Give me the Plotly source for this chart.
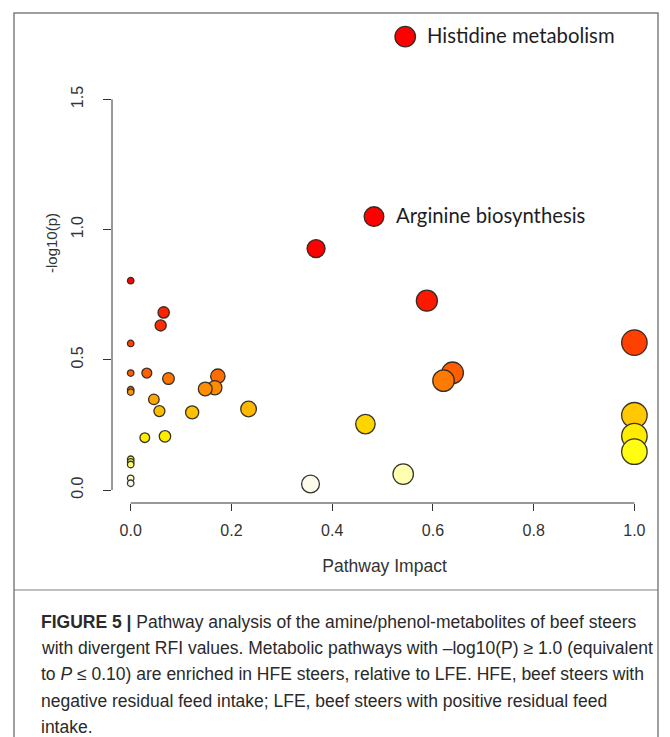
import numpy as np
import plotly.graph_objects as go

# Pathway impact (x) and -log10(p) (y) for each metabolic pathway
impact = [0.000, 0.0655, 0.0595, 0.000, 0.000, 0.032, 0.075, 0.173, 0.167, 0.148,
          0.000, 0.000, 0.046, 0.057, 0.122, 0.234, 0.028, 0.068, 0.000, 0.000,
          0.000, 0.000, 0.000, 0.368, 0.588, 0.639, 0.621, 0.466, 0.541, 0.357,
          1.000, 1.000, 1.000, 1.000]
neglogp = [0.804, 0.682, 0.632, 0.563, 0.449, 0.449, 0.428, 0.437, 0.393, 0.388,
           0.385, 0.376, 0.348, 0.303, 0.298, 0.311, 0.201, 0.206, 0.118, 0.108,
           0.098, 0.045, 0.026, 0.927, 0.727, 0.450, 0.420, 0.253, 0.061, 0.023,
           0.566, 0.287, 0.207, 0.147]

# Named pathways
label_names = ["Histidine metabolism", "Arginine biosynthesis"]
label_impact = [0.545, 0.483]
label_neglogp = [1.741, 1.050]

x_ticks = [0.0, 0.2, 0.4, 0.6, 0.8, 1.0]
y_ticks = [0.0, 0.5, 1.0, 1.5]

W, H = 670, 737
# plot area in pixels
L, R, T, B = 112, 657, 14, 503
# pixel position of data 0 and 1 on each axis
X0, X1 = 130.7, 634.4
Y0, Y1 = 490.0, 229.6


def px_to_x(p):
    return (p - X0) / (X1 - X0)


def px_to_y(p):
    return (Y0 - p) / (Y0 - Y1)


heat = [
    [0.000, "#FFFFF6"], [0.030, "#FCFBEC"], [0.076, "#FFFFB0"], [0.125, "#FFFF6A"],
    [0.180, "#FFFF12"], [0.260, "#FFEC00"], [0.310, "#FFD700"], [0.360, "#FFC800"],
    [0.390, "#FFB600"], [0.440, "#FFA200"], [0.490, "#FF8C00"], [0.540, "#FF7200"],
    [0.560, "#FF5E00"], [0.700, "#FF4200"], [0.790, "#FF2C00"], [0.910, "#FF1800"],
    [1.000, "#FF0000"],
]


def sizes(vals):
    return [6.5 + 19.0 * np.sqrt(v) for v in vals]


all_x = impact + label_impact
all_y = neglogp + label_neglogp

fig = go.Figure()
fig.add_trace(go.Scatter(
    x=all_x, y=all_y, mode="markers",
    marker=dict(size=sizes(all_x), color=all_y, colorscale=heat, cmin=0, cmax=0.8,
                line=dict(color="rgba(40,36,32,0.92)", width=1.3), opacity=1),
    showlegend=False, hoverinfo="skip", cliponaxis=False,
))

annotations = []
for name, xi, yi in zip(label_names, label_impact, label_neglogp):
    annotations.append(dict(
        x=xi, y=yi, xref="x", yref="y", text=name, showarrow=False,
        xanchor="left", yanchor="middle", xshift=20, yshift=2,
        font=dict(family="Lato", size=20.3, color="#1e1e1e"),
    ))

# y axis title
annotations.append(dict(
    x=52 / W, y=1 - 243 / H, xref="paper", yref="paper", text="-log10(p)",
    textangle=-90, showarrow=False, xanchor="center", yanchor="middle",
    font=dict(family="Liberation Sans", size=15, color="#333333"),
))

caption = [
    "<b>FIGURE 5 |</b> Pathway analysis of the amine/phenol-metabolites of beef steers",
    "with divergent RFI values. Metabolic pathways with \u2013log10(P) \u2265 1.0 (equivalent",
    "to <i>P</i> \u2264 0.10) are enriched in HFE steers, relative to LFE. HFE, beef steers with",
    "negative residual feed intake; LFE, beef steers with positive residual feed",
    "intake.",
]
for i, line in enumerate(caption):
    annotations.append(dict(
        x=39 / W, y=1 - (622 + 26.2 * i) / H, xref="paper", yref="paper",
        text=line, showarrow=False, xanchor="left", yanchor="middle",
        font=dict(family="Liberation Sans", size=17.5, color="#2a2a2a"),
    ))

shapes = [
    # outer frame
    dict(type="rect", xref="paper", yref="paper", x0=14 / W, x1=658 / W,
         y0=-0.05, y1=1 - 13 / H, line=dict(color="#808080", width=1.5)),
    # divider above caption
    dict(type="line", xref="paper", yref="paper", x0=14 / W, x1=658 / W,
         y0=1 - 590 / H, y1=1 - 590 / H, line=dict(color="#808080", width=1.2)),
    # y axis line (spans tick range only)
    dict(type="line", xref="paper", yref="y", x0=L / W, x1=L / W, y0=0, y1=1.5,
         line=dict(color="#333333", width=1)),
    # x axis line
    dict(type="line", xref="x", yref="paper", x0=0, x1=1, y0=1 - B / H, y1=1 - B / H,
         line=dict(color="#333333", width=1)),
]

tick_font = dict(family="Liberation Sans", size=16, color="#333333")
fig.update_layout(
    width=W, height=H, margin=dict(l=0, r=0, t=0, b=0),
    paper_bgcolor="white", plot_bgcolor="white",
    xaxis=dict(domain=[L / W, R / W], range=[px_to_x(L), px_to_x(R)],
               showgrid=False, zeroline=False, showline=False,
               ticks="outside", ticklen=7, tickcolor="#333333", tickwidth=1,
               tickvals=x_ticks, ticktext=[f"{v:.1f}" for v in x_ticks],
               tickfont=tick_font, ticklabelstandoff=6,
               title=dict(text="Pathway Impact", standoff=21,
                          font=dict(family="Liberation Sans", size=17.5, color="#333333"))),
    yaxis=dict(domain=[1 - B / H, 1 - T / H], range=[px_to_y(B), px_to_y(T)],
               showgrid=False, zeroline=False, showline=False,
               ticks="outside", ticklen=8, tickcolor="#333333", tickwidth=1,
               tickvals=y_ticks, ticktext=[f"{v:.1f}" for v in y_ticks],
               tickangle=-90, tickfont=tick_font, ticklabelstandoff=14),
    annotations=annotations, shapes=shapes,
)

fig.write_html("out.html")
